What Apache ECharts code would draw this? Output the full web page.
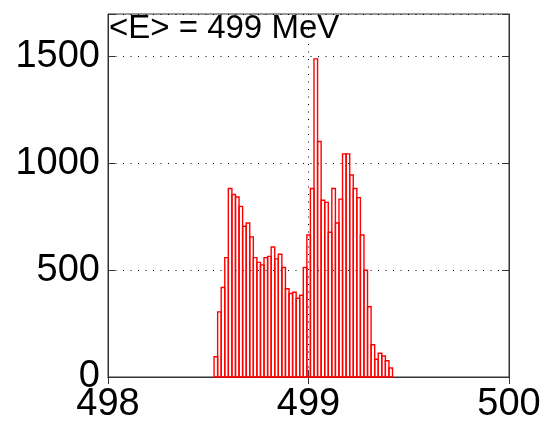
<!DOCTYPE html>
<html>
<head>
<meta charset="utf-8">
<script src="https://cdn.jsdelivr.net/npm/echarts@6/dist/echarts.min.js"></script>
<style>
  html, body { margin: 0; padding: 0; background: #fff; }
  #chart { width: 547px; height: 424px; }
</style>
</head>
<body>
<div id="chart"></div>
<script>
// Energy histogram: 50 equal bins between the sample min and max (MeV)
const histMin = 498.529;
const histMax = 499.419;
const counts = [
  95, 305, 419, 559, 883, 855, 843, 799, 706, 721,
  656, 559, 537, 525, 559, 565, 609, 553, 575, 513,
  413, 391, 397, 369, 383, 513, 665, 883, 1490, 1103,
  828, 818, 678, 883, 721, 833, 1045, 1045, 946, 883,
  840, 665, 500, 329, 151, 83, 111, 98, 76, 42
];
const xTicks = [498, 499, 500];
const yTicks = [0, 500, 1000, 1500];
const titleText = '<E> = 499 MeV';

const binWidth = (histMax - histMin) / counts.length;
const bins = counts.map((c, i) => [histMin + i * binWidth, histMin + (i + 1) * binWidth, c]);

const font = '"Liberation Sans", Arial, Helvetica, sans-serif';
const dotted = { color: '#000', width: 1, type: [1, 6.5] };
const tickStyle = { show: true, inside: true, length: 7, lineStyle: { color: '#333', width: 1 } };

const chart = echarts.init(document.getElementById('chart'), null, { renderer: 'canvas' });
chart.setOption({
  animation: false,
  backgroundColor: '#fff',
  title: {
    text: titleText,
    left: 109,
    top: 12,
    padding: 0,
    textStyle: { fontFamily: font, fontSize: 33, fontWeight: 'normal', color: '#000' }
  },
  grid: {
    left: 108, right: 38, top: 14, bottom: 47,
    show: true, borderColor: '#333', borderWidth: 1, backgroundColor: 'transparent'
  },
  xAxis: [{
    type: 'value', min: xTicks[0], max: xTicks[xTicks.length - 1], interval: 1,
    axisLine: { show: true, lineStyle: { color: '#333', width: 1 } },
    axisTick: tickStyle,
    axisLabel: { fontFamily: font, fontSize: 38, color: '#000', margin: 9,
      formatter: v => (xTicks.includes(v) ? String(v) : '') },
    splitLine: { show: true, lineStyle: dotted }
  }, {
    type: 'value', position: 'top', min: xTicks[0], max: xTicks[xTicks.length - 1], interval: 1,
    axisLine: { show: true, lineStyle: { color: '#333', width: 1 } },
    axisTick: tickStyle, axisLabel: { show: false }, splitLine: { show: false }
  }],
  yAxis: [{
    type: 'value', min: 0, max: 1700, interval: 500,
    axisLine: { show: true, lineStyle: { color: '#333', width: 1 } },
    axisTick: tickStyle,
    axisLabel: { fontFamily: font, fontSize: 38, color: '#000', margin: 8,
      formatter: v => (yTicks.includes(v) ? String(v) : '') },
    splitLine: { show: true, lineStyle: dotted }
  }, {
    type: 'value', position: 'right', min: 0, max: 1700, interval: 500,
    axisLine: { show: true, lineStyle: { color: '#333', width: 1 } },
    axisTick: tickStyle, axisLabel: { show: false }, splitLine: { show: false }
  }],
  series: [{
    type: 'custom',
    xAxisIndex: 0,
    yAxisIndex: 0,
    data: bins,
    encode: { x: [0, 1], y: 2 },
    renderItem: function (params, api) {
      const p0 = api.coord([api.value(0), api.value(2)]);
      const p1 = api.coord([api.value(1), 0]);
      return {
        type: 'rect',
        shape: { x: p0[0], y: p0[1], width: p1[0] - p0[0], height: p1[1] - p0[1] },
        style: { fill: 'rgba(255,255,255,0)', stroke: '#ff0000', lineWidth: 1.4 }
      };
    }
  }]
});
</script>
</body>
</html>
